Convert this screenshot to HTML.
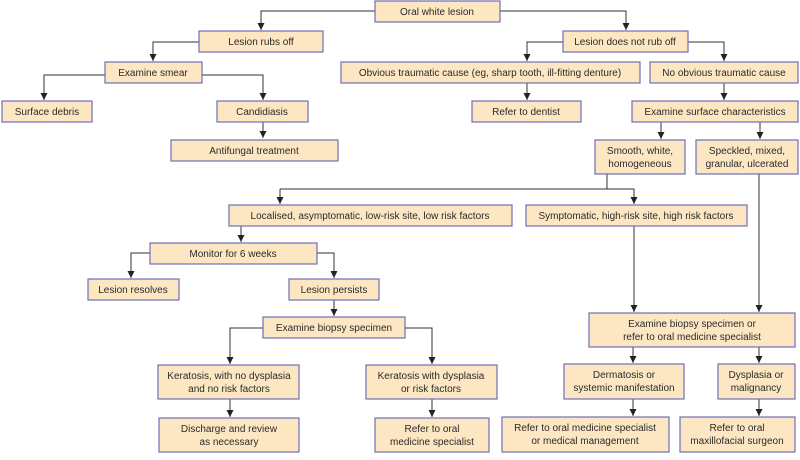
<!DOCTYPE html>
<html><head><meta charset="utf-8"><style>
html,body{margin:0;padding:0;background:#fff;width:800px;height:460px;overflow:hidden}
svg{display:block}
rect{fill:#fde7c3;stroke:#6e6eb8;stroke-width:1.2}
text{font-family:"Liberation Sans",sans-serif;font-size:10px;fill:#2a2a2a;text-anchor:middle}
.l{fill:none;stroke:#333;stroke-width:1}
</style></head><body>
<svg width="800" height="460" viewBox="0 0 800 460">
<defs><marker id="a" markerWidth="6" markerHeight="6" refX="3" refY="5" orient="auto" markerUnits="userSpaceOnUse"><path d="M0,0 L6,0 L3,6 z" fill="#222" transform="rotate(-90 3 3)"/></marker>
<marker id="b" viewBox="0 0 8 8" markerWidth="7" markerHeight="7" refX="4" refY="8" orient="0" markerUnits="userSpaceOnUse"><path d="M0,0 L8,0 L4,8 z" fill="#222"/></marker></defs>
<g class="l">
<path class="l" d="M375,11 H261 V30" marker-end="url(#b)"/>
<path class="l" d="M500,11 H626 V30" marker-end="url(#b)"/>
<path class="l" d="M199,42 H153 V61" marker-end="url(#b)"/>
<path class="l" d="M105,75 H44 V100" marker-end="url(#b)"/>
<path class="l" d="M202,75 H263 V100" marker-end="url(#b)"/>
<path class="l" d="M263,122 V138" marker-end="url(#b)"/>
<path class="l" d="M563,42 H527 V61" marker-end="url(#b)"/>
<path class="l" d="M688,42 H724 V61" marker-end="url(#b)"/>
<path class="l" d="M527,83 V100" marker-end="url(#b)"/>
<path class="l" d="M724,83 V100" marker-end="url(#b)"/>
<path class="l" d="M661,122 V139" marker-end="url(#b)"/>
<path class="l" d="M760,122 V139" marker-end="url(#b)"/>
<path class="l" d="M607,174 V189"/>
<path class="l" d="M280,189 V204" marker-end="url(#b)"/>
<path class="l" d="M280,189 H634 V204" marker-end="url(#b)"/>
<path class="l" d="M634,226 V312" marker-end="url(#b)"/>
<path class="l" d="M759,174 V312" marker-end="url(#b)"/>
<path class="l" d="M241,226 V242" marker-end="url(#b)"/>
<path class="l" d="M150,253 H131 V278" marker-end="url(#b)"/>
<path class="l" d="M317,253 H334 V278" marker-end="url(#b)"/>
<path class="l" d="M334,300 V316" marker-end="url(#b)"/>
<path class="l" d="M263,328 H230 V364" marker-end="url(#b)"/>
<path class="l" d="M405,328 H432 V364" marker-end="url(#b)"/>
<path class="l" d="M230,399 V417" marker-end="url(#b)"/>
<path class="l" d="M432,399 V417" marker-end="url(#b)"/>
<path class="l" d="M633,347 V363" marker-end="url(#b)"/>
<path class="l" d="M759,347 V363" marker-end="url(#b)"/>
<path class="l" d="M633,399 V416" marker-end="url(#b)"/>
<path class="l" d="M759,399 V416" marker-end="url(#b)"/>
</g>
<rect x="375" y="1" width="125" height="21"/><text x="437" y="15">Oral white lesion</text>
<rect x="199" y="31" width="124" height="21"/><text x="261" y="45">Lesion rubs off</text>
<rect x="105" y="62" width="97" height="21"/><text x="153" y="76">Examine smear</text>
<rect x="2" y="101" width="90" height="21"/><text x="47" y="115">Surface debris</text>
<rect x="217" y="101" width="91" height="21"/><text x="262" y="115">Candidiasis</text>
<rect x="171" y="140" width="167" height="21"/><text x="254" y="154">Antifungal treatment</text>
<rect x="563" y="31" width="125" height="21"/><text x="625" y="45">Lesion does not rub off</text>
<rect x="341" y="62" width="299" height="21"/><text x="490" y="76">Obvious traumatic cause (eg, sharp tooth, ill-fitting denture)</text>
<rect x="650" y="62" width="148" height="21"/><text x="724" y="76">No obvious traumatic cause</text>
<rect x="472" y="101" width="109" height="21"/><text x="526" y="115">Refer to dentist</text>
<rect x="632" y="101" width="166" height="21"/><text x="715" y="115">Examine surface characteristics</text>
<rect x="595" y="140" width="90" height="34"/><text x="640" y="154">Smooth, white,</text><text x="640" y="167">homogeneous</text>
<rect x="696" y="140" width="102" height="34"/><text x="747" y="154">Speckled, mixed,</text><text x="747" y="167">granular, ulcerated</text>
<rect x="229" y="205" width="283" height="21"/><text x="370" y="219">Localised, asymptomatic, low-risk site, low risk factors</text>
<rect x="526" y="205" width="221" height="21"/><text x="636" y="219">Symptomatic, high-risk site, high risk factors</text>
<rect x="150" y="243" width="167" height="21"/><text x="233" y="257">Monitor for 6 weeks</text>
<rect x="88" y="279" width="91" height="21"/><text x="133" y="293">Lesion resolves</text>
<rect x="289" y="279" width="90" height="21"/><text x="334" y="293">Lesion persists</text>
<rect x="263" y="317" width="142" height="21"/><text x="334" y="331">Examine biopsy specimen</text>
<rect x="158" y="365" width="141" height="34"/><text x="229" y="379">Keratosis, with no dysplasia</text><text x="229" y="392">and no risk factors</text>
<rect x="366" y="365" width="131" height="34"/><text x="431" y="379">Keratosis with dysplasia</text><text x="431" y="392">or risk factors</text>
<rect x="159" y="418" width="140" height="34"/><text x="229" y="432">Discharge and review</text><text x="229" y="445">as necessary</text>
<rect x="375" y="418" width="114" height="34"/><text x="432" y="432">Refer to oral</text><text x="432" y="445">medicine specialist</text>
<rect x="589" y="313" width="206" height="34"/><text x="692" y="327">Examine biopsy specimen or</text><text x="692" y="340">refer to oral medicine specialist</text>
<rect x="564" y="364" width="120" height="35"/><text x="624" y="378">Dermatosis or</text><text x="624" y="391">systemic manifestation</text>
<rect x="718" y="364" width="77" height="35"/><text x="756" y="378">Dysplasia or</text><text x="756" y="391">malignancy</text>
<rect x="502" y="417" width="167" height="35"/><text x="585" y="431">Refer to oral medicine specialist</text><text x="585" y="444">or medical management</text>
<rect x="680" y="417" width="115" height="35"/><text x="737" y="431">Refer to oral</text><text x="737" y="444">maxillofacial surgeon</text>
</svg>
</body></html>
